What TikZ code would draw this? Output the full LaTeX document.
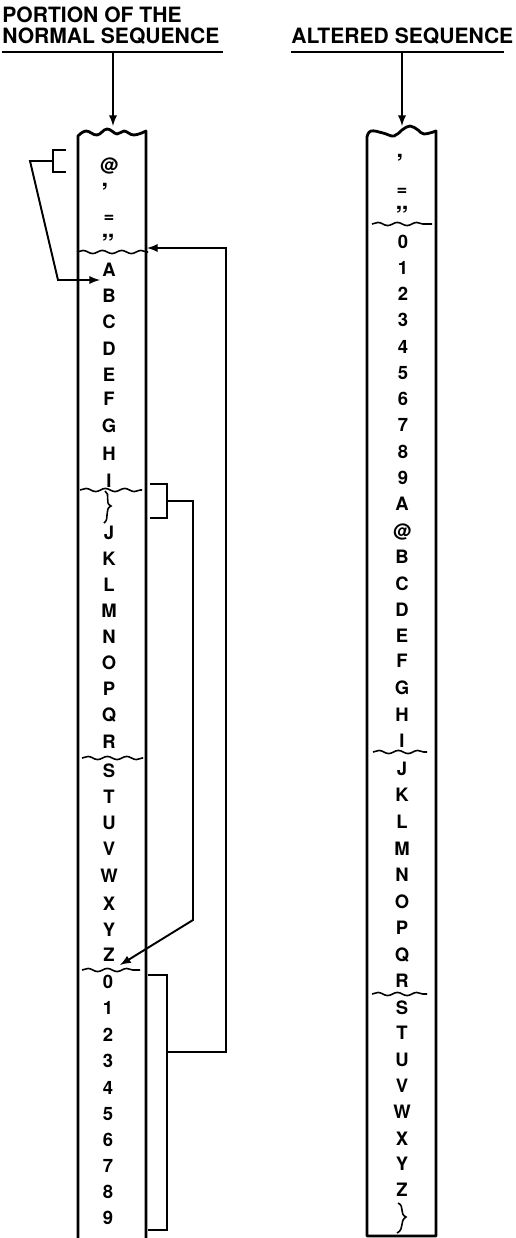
\documentclass[tikz,border=0pt]{standalone}
\usepackage{fontspec}
\setmainfont{TeX Gyre Heros}
\usetikzlibrary{decorations.pathmorphing}
\tikzset{
  seqchar/.style={font=\bfseries\fontsize{10.5}{12}\selectfont, inner sep=0pt, text height=7.5pt, text depth=0pt},
  quotechar/.style={seqchar, font=\bfseries\fontsize{15}{16}\selectfont, yshift=-5.3pt},
  heading/.style={font=\bfseries\fontsize{12}{11.9}\selectfont, inner sep=0pt, align=left, anchor=north west},
  column/.style={line width=1.6pt, line join=round},
  link/.style={line width=1.1pt},
  breakline/.style={line width=0.9pt, decorate, decoration={snake, amplitude=0.9pt, segment length=11pt}},
  bracepath/.style={line width=0.9pt}
}

\begin{document}
\begin{tikzpicture}[x=0.02cm, y=-0.02cm, >=latex]
\useasboundingbox (0,0) rectangle (516,1238);

\node[heading] (H1) at (2,7) {PORTION OF THE\\NORMAL SEQUENCE};
\node[heading] (H2) at (291,28) {ALTERED SEQUENCE};
\draw[link] (2,52) -- (223,52);
\draw[link] (291,52) -- (504,52);
\coordinate (Ntop) at (113,126);
\coordinate (Atop) at (402,126);
\draw[link,->] (113,52) -- (Ntop);
\draw[link,->] (402,52) -- (Atop);

\draw[column] (78,1238) -- plot[smooth, tension=0.7] coordinates {(78,136) (86,131) (97,135) (107,129) (117,134) (124,131) (134,135) (146,131)} -- (146,1238);
\draw[column] (367,1236) -- plot[smooth, tension=0.7] coordinates {(367,137) (371,131) (383,133) (394,136) (402,130) (410,126) (418,130) (424,134) (436,131)} -- (436,1236) -- cycle;

\draw[breakline] (77,252) -- (148,252);
\draw[breakline] (80,490) -- (142,490);
\draw[breakline] (82,758) -- (143,758);
\draw[breakline] (82,970) -- (140,970);
\draw[breakline] (372,224) -- (432,224);
\draw[breakline] (373,752) -- (427,752);
\draw[breakline] (372,994) -- (427,994);
\draw[bracepath] (105,491) .. controls (111,494) and (104,503) .. (111,506) .. controls (104,509) and (110,519) .. (104,523);
\draw[bracepath] (398,1203) .. controls (405,1206) and (399,1214) .. (406,1217) .. controls (399,1221) and (405,1229) .. (397,1233);

\node[seqchar] (Nat) at (109,165) {@};
\node[quotechar] (Nap) at (105,187) {’};
\node[seqchar] (Neq) at (109,216) {=};
\node[quotechar] (Nqt) at (108,238) {”};
\node[seqchar] (NA) at (109,270) {A};
\node[seqchar] (NB) at (109,296) {B};
\node[seqchar] (NC) at (109,322) {C};
\node[seqchar] (ND) at (109,349) {D};
\node[seqchar] (NE) at (109,375) {E};
\node[seqchar] (NF) at (109,399) {F};
\node[seqchar] (NG) at (109,426) {G};
\node[seqchar] (NH) at (109,454) {H};
\node[seqchar] (NI) at (109,481) {I};
\node[seqchar] (NJ) at (109,533) {J};
\node[seqchar] (NK) at (109,559) {K};
\node[seqchar] (NL) at (109,585) {L};
\node[seqchar] (NM) at (109,611) {M};
\node[seqchar] (NN) at (109,637) {N};
\node[seqchar] (NO) at (109,663) {O};
\node[seqchar] (NP) at (109,689) {P};
\node[seqchar] (NQ) at (109,715) {Q};
\node[seqchar] (NR) at (109,742) {R};
\node[seqchar] (NS) at (109,771) {S};
\node[seqchar] (NT) at (109,797) {T};
\node[seqchar] (NU) at (109,823) {U};
\node[seqchar] (NV) at (109,849) {V};
\node[seqchar] (NW) at (109,876) {W};
\node[seqchar] (NX) at (109,904) {X};
\node[seqchar] (NY) at (109,930) {Y};
\node[seqchar] (NZ) at (109,955) {Z};
\node[seqchar] (N0) at (108,982) {0};
\node[seqchar] (N1) at (108,1008) {1};
\node[seqchar] (N2) at (108,1035) {2};
\node[seqchar] (N3) at (108,1061) {3};
\node[seqchar] (N4) at (108,1088) {4};
\node[seqchar] (N5) at (108,1114) {5};
\node[seqchar] (N6) at (108,1140) {6};
\node[seqchar] (N7) at (108,1166) {7};
\node[seqchar] (N8) at (108,1192) {8};
\node[seqchar] (N9) at (108,1218) {9};

\node[quotechar] (Aap) at (400,158) {’};
\node[seqchar] (Aeq) at (402,189) {=};
\node[quotechar] (Aqt) at (402,210) {”};
\node[seqchar] (A0) at (403,242) {0};
\node[seqchar] (A1) at (403,268) {1};
\node[seqchar] (A2) at (403,294) {2};
\node[seqchar] (A3) at (403,320) {3};
\node[seqchar] (A4) at (403,347) {4};
\node[seqchar] (A5) at (403,373) {5};
\node[seqchar] (A6) at (403,399) {6};
\node[seqchar] (A7) at (403,425) {7};
\node[seqchar] (A8) at (403,452) {8};
\node[seqchar] (A9) at (403,478) {9};
\node[seqchar] (AA) at (402,504) {A};
\node[seqchar] (Aat) at (402,531) {@};
\node[seqchar] (AB) at (402,557) {B};
\node[seqchar] (AC) at (402,584) {C};
\node[seqchar] (AD) at (402,610) {D};
\node[seqchar] (AE) at (402,636) {E};
\node[seqchar] (AF) at (402,661) {F};
\node[seqchar] (AG) at (402,688) {G};
\node[seqchar] (AH) at (402,715) {H};
\node[seqchar] (AI) at (402,741) {I};
\node[seqchar] (AJ) at (402,769) {J};
\node[seqchar] (AK) at (402,795) {K};
\node[seqchar] (AL) at (402,822) {L};
\node[seqchar] (AM) at (402,849) {M};
\node[seqchar] (AN) at (402,875) {N};
\node[seqchar] (AO) at (402,902) {O};
\node[seqchar] (AP) at (402,928) {P};
\node[seqchar] (AQ) at (402,955) {Q};
\node[seqchar] (AR) at (402,981) {R};
\node[seqchar] (AS) at (402,1008) {S};
\node[seqchar] (AT) at (402,1033) {T};
\node[seqchar] (AU) at (402,1060) {U};
\node[seqchar] (AV) at (402,1086) {V};
\node[seqchar] (AW) at (402,1112) {W};
\node[seqchar] (AX) at (402,1139) {X};
\node[seqchar] (AY) at (402,1164) {Y};
\node[seqchar] (AZ) at (402,1190) {Z};

\draw[link] (66,150) -- (53,150) -- (53,172) -- (66,172);
\coordinate (B1) at (53,161);
\coordinate (tipA) at (100,280);
\draw[link,->] (B1) -- (30,161) -- (58,280) -- (tipA);
\draw[link] (150,484) -- (167,484) -- (167,518) -- (150,518);
\coordinate (B2) at (167,501);
\coordinate (tipZ) at (120,965);
\draw[link,->] (B2) -- (193,501) -- (193,920) -- (tipZ);
\draw[link] (148,975) -- (167,975) -- (167,1230) -- (148,1230);
\coordinate (B3) at (167,1052);
\coordinate (tipQ) at (147,248);
\draw[link,->] (B3) -- (226,1052) -- (226,248) -- (tipQ);

\end{tikzpicture}
\end{document}
